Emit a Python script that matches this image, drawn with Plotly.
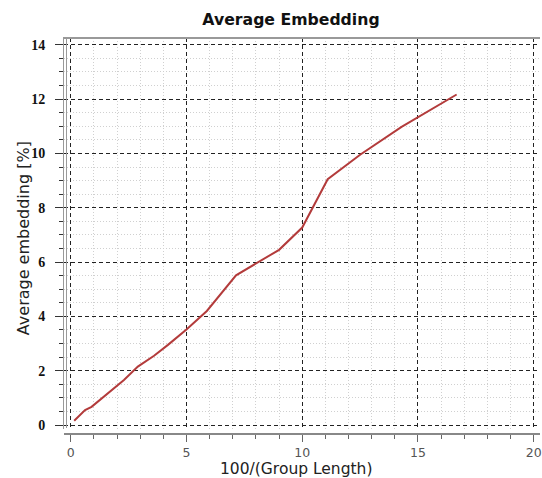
import plotly.graph_objects as go

# Data
x_vals = [0.15, 0.33, 0.62, 0.90, 1.62, 2.30, 2.90, 3.60, 4.20, 5.00, 5.88, 7.14, 9.00, 10.00, 11.10, 12.50, 14.29, 16.67]
y_vals = [0.16, 0.31, 0.55, 0.67, 1.19, 1.66, 2.15, 2.55, 2.95, 3.52, 4.20, 5.51, 6.45, 7.27, 9.05, 9.95, 10.98, 12.17]

title_text = "Average Embedding"
x_title = "100/(Group Length)"
y_title = "Average embedding [%]"

W, H = 542, 478
ML, MR, MT, MB = 64, 0, 38, 44
PW = W - ML - MR
PH = H - MT - MB

fig = go.Figure()
fig.add_trace(go.Scatter(x=x_vals, y=y_vals, mode="lines",
                         line=dict(color="#b33b3b", width=2), showlegend=False))

fig.update_layout(
    width=W, height=H,
    margin=dict(l=ML, r=MR, t=MT, b=MB),
    plot_bgcolor="white", paper_bgcolor="white",
    title=dict(text=title_text, x=291 / W, y=1 - 20 / H, xanchor="center", yanchor="middle",
               font=dict(family="DejaVu Sans", size=15.7, color="#111", weight="bold")),
    xaxis=dict(
        range=[-0.29, 20.27], anchor="free", position=0,
        tickmode="linear", tick0=0, dtick=5,
        ticks="outside", ticklen=7, tickwidth=1, tickcolor="#666",
        showline=True, linecolor="#888", linewidth=2,
        showgrid=True, gridcolor="#222", gridwidth=1, griddash="4px,3px",
        zeroline=False, ticklabeloverflow="allow", ticklabelstandoff=0,
        tickfont=dict(family="DejaVu Sans", size=12.5, color="#555"),
        minor=dict(dtick=1, ticks="outside", ticklen=4, tickcolor="#666",
                   showgrid=True, gridcolor="#d0d0d0", griddash="1px,2px", gridwidth=1),
    ),
    yaxis=dict(
        range=[-0.147, 14.25], domain=[5 / PH, 1],
        tickmode="linear", tick0=0, dtick=2,
        ticks="outside", ticklen=8, tickwidth=1, tickcolor="#333",
        showline=True, linecolor="#999", linewidth=1,
        showgrid=True, gridcolor="#222", gridwidth=1, griddash="4px,3px",
        zeroline=False, ticklabelstandoff=7,
        tickfont=dict(family="Liberation Serif", size=14, color="#111", weight="bold"),
        minor=dict(dtick=0.5, ticks="outside", ticklen=4, tickcolor="#333",
                   showgrid=True, gridcolor="#d0d0d0", griddash="1px,2px", gridwidth=1),
    ),
    annotations=[
        dict(text=y_title, xref="paper", yref="paper", x=(24 - ML) / PW, y=(434 - 238) / PH,
             showarrow=False, textangle=-90, xanchor="center", yanchor="middle",
             font=dict(family="DejaVu Sans", size=16, color="#222")),
        dict(text=x_title, xref="paper", yref="paper", x=(297 - ML) / PW, y=(434 - 469.5) / PH,
             showarrow=False, xanchor="center", yanchor="middle",
             font=dict(family="DejaVu Sans", size=15.5, color="#222")),
    ],
    shapes=[
        # top frame
        dict(type="line", xref="paper", yref="paper", x0=-1 / PW, x1=1, y0=1, y1=1,
             line=dict(color="#999", width=2)),
        # second line of the double y-axis rule
        dict(type="line", xref="paper", yref="paper", x0=2.5 / PW, x1=2.5 / PW,
             y0=(434 - 428) / PH, y1=1, line=dict(color="#999", width=1)),
    ],
)

fig.write_html("out.html")
